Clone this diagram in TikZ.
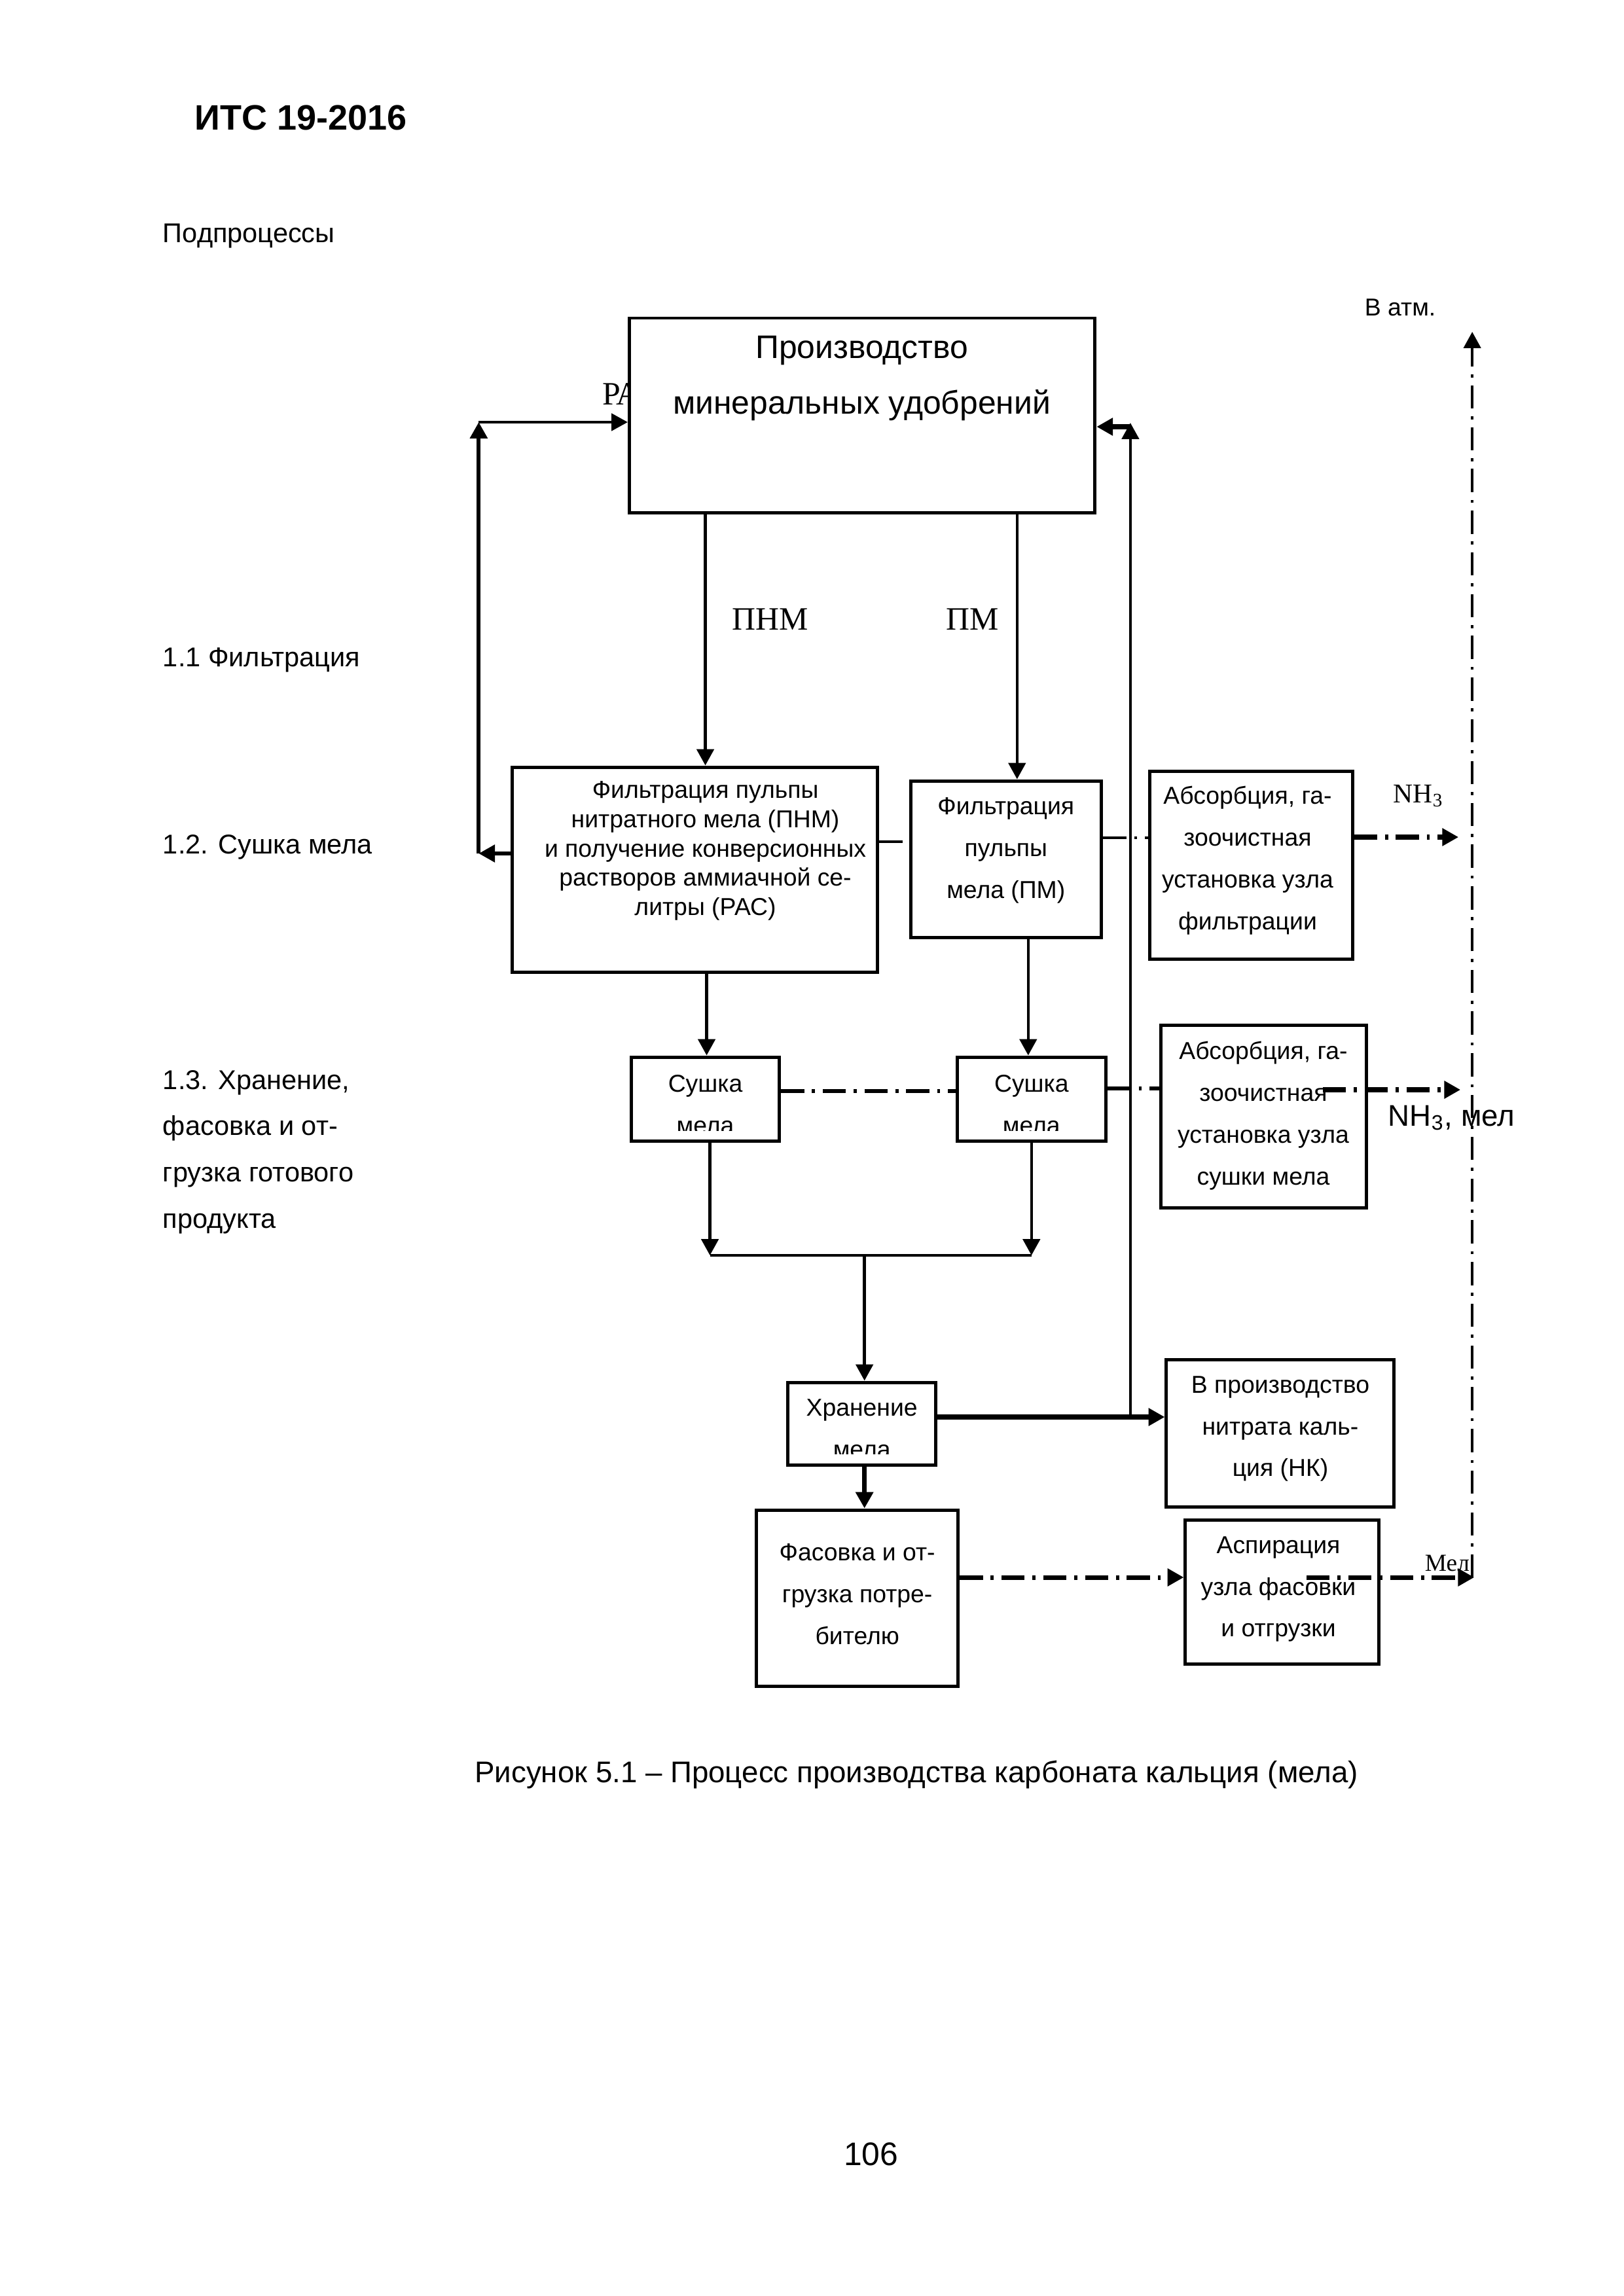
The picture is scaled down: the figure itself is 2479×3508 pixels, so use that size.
\documentclass[tikz,border=0pt]{standalone}
\usepackage{fontspec}
\setmainfont{Liberation Sans}
\newfontfamily\tmsfont{Liberation Serif}
\usetikzlibrary{arrows.meta}
\newcommand\pbox[5]{\node[box, minimum width={(#4-#2)*0.084711mm}, minimum height={(#5-#3)*0.084664mm}] (#1) at ({(#2+#4)/2},{(#3+#5)/2}) {};}
\begin{document}
\begin{tikzpicture}[x=0.084711mm, y=-0.084664mm,
  box/.style={draw, line width=1.2pt, fill=white, inner sep=0pt},
  txt/.style={inner sep=0pt, align=center},
  ninept/.style={font=\fontsize{9pt}{10.8pt}\selectfont},
  ninewide/.style={font=\fontsize{9pt}{15.4pt}\selectfont},
  arr/.style={-{Triangle[length=2.1mm,width=2.2mm]}, line width=1.1pt},
  thickarr/.style={arr, line width=1.7pt},
  dd/.style={dash pattern=on 3mm off 1mm on 0.4mm off 1mm},
  ddarr/.style={arr, dd, line width=1.7pt}]
\fill[white] (0,0) rectangle (2479,3508);
\useasboundingbox (0,0) rectangle (2479,3508);

% header texts
\node[inner sep=0pt, anchor=base west, font=\fontsize{13pt}{15pt}\selectfont\bfseries] (hdr) at (297,198) {ИТС 19-2016};
\node[inner sep=0pt, anchor=base west, font=\fontsize{10pt}{12pt}\selectfont] (sub) at (248,370) {Подпроцессы};
\node[inner sep=0pt, anchor=base west, font=\fontsize{10pt}{12pt}\selectfont] (l11) at (248,1018) {1.1 Фильтрация};
\node[inner sep=0pt, anchor=base west, font=\fontsize{10pt}{12pt}\selectfont] (l12) at (248,1304) {1.2. Сушка мела};
\node[inner sep=0pt, anchor=west, align=left, font=\fontsize{10pt}{17pt}\selectfont] (l13) at (248,1760) {1.3. Хранение,\\фасовка и от-\\грузка готового\\продукта};

% label partly behind main box
\node[inner sep=0pt, anchor=base west, font=\fontsize{12pt}{14pt}\selectfont\tmsfont] (ras) at (919,618) {РА};

% boxes
\pbox{main}{961}{486}{1672}{783}
\pbox{pnm}{782}{1172}{1340}{1485}
\pbox{pm}{1391}{1193}{1682}{1432}
\pbox{absf}{1756}{1178}{2065}{1465}
\pbox{sA}{964}{1615}{1190}{1743}
\pbox{sB}{1462}{1615}{1689}{1743}
\pbox{abss}{1773}{1566}{2086}{1845}
\pbox{hran}{1203}{2112}{1429}{2238}
\pbox{nk}{1781}{2077}{2128}{2302}
\pbox{fas}{1155}{2307}{1463}{2576}
\pbox{asp}{1810}{2322}{2105}{2542}

% box texts
\node[txt, font=\fontsize{12pt}{20.4pt}\selectfont] (tmain) at (1316,578) {Производство\\минеральных удобрений};
\node[txt, ninept] (tpnm) at (1077,1300) {Фильтрация пульпы\\нитратного мела (ПНМ)\\и получение конверсионных\\растворов аммиачной се-\\литры (РАС)};
\node[txt, ninewide] (tpm) at (1536,1299) {Фильтрация\\пульпы\\мела (ПМ)};
\node[txt, ninewide] (tabsf) at (1905,1315) {Абсорбция, га-\\зоочистная\\установка узла\\фильтрации};
\begin{scope}
\clip (964,1600) rectangle (1689,1727);
\node[txt, ninewide] (tsA) at (1077,1688) {Сушка\\мела};
\node[txt, ninewide] (tsB) at (1575,1688) {Сушка\\мела};
\end{scope}
\node[txt, ninewide] (tabss) at (1929,1705) {Абсорбция, га-\\зоочистная\\установка узла\\сушки мела};
\begin{scope}
\clip (1203,2100) rectangle (1429,2221);
\node[txt, ninewide] (thran) at (1316,2183) {Хранение\\мела};
\end{scope}
\node[txt, ninewide] (tnk) at (1955,2183) {В производство\\нитрата каль-\\ция (НК)};
\node[txt, ninewide] (tfas) at (1309,2436) {Фасовка и от-\\грузка потре-\\бителю};
\node[txt, ninewide] (tasp) at (1952,2428) {Аспирация\\узла фасовки\\и отгрузки};

% flow labels
\node[inner sep=0pt, anchor=base west, font=\fontsize{12pt}{14pt}\selectfont\tmsfont] (lpnm) at (1117,962) {ПНМ};
\node[inner sep=0pt, anchor=base west, font=\fontsize{12pt}{14pt}\selectfont\tmsfont] (lpm) at (1444,962) {ПМ};
\node[inner sep=0pt, anchor=base west, font=\fontsize{9pt}{11pt}\selectfont] (latm) at (2083,482) {В атм.};
\node[inner sep=0pt, anchor=base west, font=\fontsize{10pt}{12pt}\selectfont\tmsfont] (lnh1) at (2127,1226) {NH\textsubscript{3}};
\node[inner sep=0pt, anchor=base west, font=\fontsize{11pt}{13pt}\selectfont] (lnh2) at (2119,1720) {NH\textsubscript{3}, мел};
\node[inner sep=0pt, anchor=base west, font=\fontsize{9pt}{11pt}\selectfont\tmsfont] (lmel) at (2175,2400) {Мел};

% coordinates
\coordinate (xa) at (1077,0);
\coordinate (xb) at (1553,0);
\coordinate (xc) at (1079,0);
\coordinate (xd) at (1570,0);
\coordinate (xe) at (1084,0);
\coordinate (xf) at (1575,0);
\coordinate (xg) at (1320,0);
\coordinate (xr) at (1726,0);
\coordinate (xv) at (2248,0);
\coordinate (xl) at (731,0);
\coordinate (xn) at (2227,0);
\coordinate (yj) at (0,1918);
\coordinate (yl) at (0,1304);
\coordinate (yt) at (0,645);
\coordinate (yr) at (0,652);
\coordinate (yrt) at (0,646);
\coordinate (yh) at (0,2165);
\coordinate (yd1) at (0,1286);
\coordinate (yd2) at (0,1280);
\coordinate (yn1) at (0,1279);
\coordinate (yd3) at (0,1667);
\coordinate (yd4) at (0,1663);
\coordinate (ym) at (0,2410);
\coordinate (ytop) at (0,507);
\coordinate (jA) at (xe |- yj);
\coordinate (jB) at (xf |- yj);
\coordinate (jC) at (xg |- yj);
\coordinate (rB) at (xr |- yh);
\coordinate (rT) at (xr |- yrt);
\coordinate (rH) at (xr |- yr);
\coordinate (lB) at (xl |- yl);
\coordinate (lT) at (xl |- yt);
\coordinate (n2s) at (2020,1665);
\coordinate (n2e) at (2230,1665);
\coordinate (ms) at (1995,2410);
\coordinate (me) at (2251,2410);

% solid connectors
\draw[arr] (main.south -| xa) -- (pnm.north -| xa);
\draw[arr] (main.south -| xb) -- (pm.north -| xb);
\draw[arr, line width=1.4pt] (pnm.west |- yl) -- (lB);
\draw[arr, line width=1.4pt] (lB) -- (lT);
\draw[arr] (lT) -- (main.west |- yt);
\draw[arr] (pnm.south -| xc) -- (sA.north -| xc);
\draw[arr] (pm.south -| xd) -- (sB.north -| xd);
\draw[arr] (sA.south -| xe) -- (jA);
\draw[arr] (sB.south -| xf) -- (jB);
\draw[line width=1.1pt] (jA) -- (jB);
\draw[arr] (jC) -- (hran.north -| xg);
\draw[thickarr] (hran.east |- yh) -- (nk.west |- yh);
\draw[arr] (rB) -- (rT);
\draw[thickarr] (rH) -- (main.east |- yr);
\draw[thickarr] (hran.south -| xg) -- (fas.north -| xg);

% dash-dot connectors
\draw[dd, line width=1.1pt] (pnm.east |- yd1) -- (pm.west |- yd1);
\draw[dd, line width=1.1pt] (pm.east |- yd2) -- (absf.west |- yd2);
\draw[ddarr] (absf.east |- yn1) -- (xn |- yn1);
\draw[dd, line width=1.3pt] (sA.east |- yd3) -- (sB.west |- yd3);
\draw[dd, line width=1.3pt] (sB.east |- yd4) -- (abss.west |- yd4);
\draw[ddarr] (n2s) -- (n2e);
\draw[ddarr] (fas.east |- ym) -- (asp.west |- ym);
\draw[ddarr] (ms) -- (me);
\draw[arr, dd, line width=1pt] (xv |- ym) -- (xv |- ytop);

% caption and page number
\node[inner sep=0pt, anchor=base west, font=\fontsize{11pt}{13pt}\selectfont] (cap) at (724,2723) {Рисунок 5.1 – Процесс производства карбоната кальция (мела)};
\node[inner sep=0pt, anchor=base, font=\fontsize{12pt}{14pt}\selectfont] (pg) at (1330,3308) {106};
\end{tikzpicture}
\end{document}
